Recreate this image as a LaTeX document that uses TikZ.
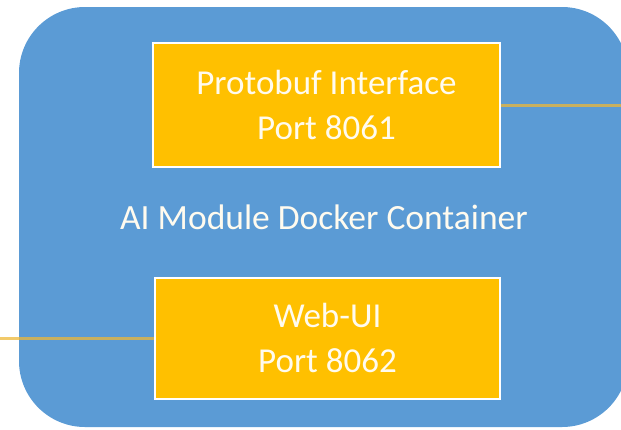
\documentclass[tikz,border=0pt]{standalone}
\usepackage{fontspec}
\setmainfont{Carlito}
\definecolor{contblue}{HTML}{5B9BD5}
\definecolor{boxorange}{HTML}{FFC000}
\definecolor{linkorange}{HTML}{EDB838}
\definecolor{txtwhite}{HTML}{FFFBEF}
\tikzset{
  portbox/.style={draw=white, line width=2pt, fill=boxorange, text=txtwhite,
    align=center, inner sep=0pt, font=\fontsize{35}{45}\selectfont},
  link/.style={draw=linkorange, line width=3pt, draw opacity=0.75},
}
\begin{document}
\begin{tikzpicture}[x=1pt,y=-1pt]
\useasboundingbox (0,0) rectangle (621,429);
\clip (0,0) rectangle (621,429);
\fill[contblue, rounded corners=66pt] (19,7) rectangle (628,427);
\node[portbox, minimum width=347pt, minimum height=124pt] (proto) at (326.5,105) {Protobuf Interface\\Port 8061};
\node[portbox, minimum width=345pt, minimum height=121pt] (webui) at (327.5,338) {Web-UI\\Port 8062};
\node[text=txtwhite, font=\fontsize{35.5}{40}\selectfont, inner sep=0pt] (cont) at (324,217) {AI Module Docker Container};
\coordinate (rightend) at (621,105);
\coordinate (leftend) at (0,338);
\draw[link] (proto.east) -- (rightend);
\draw[link] (leftend) -- (webui.west);
\end{tikzpicture}
\end{document}
